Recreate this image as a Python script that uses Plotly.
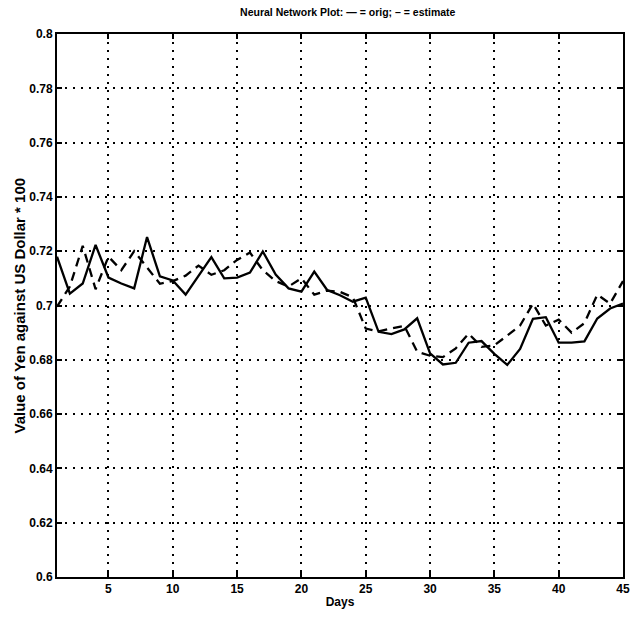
import plotly.graph_objects as go

days = list(range(1, 46))
orig = [0.718, 0.7044, 0.7081, 0.7223, 0.7103, 0.7081, 0.7063, 0.7252, 0.7107, 0.7092,
        0.704, 0.711, 0.7178, 0.710, 0.7103, 0.7121, 0.7199, 0.7114, 0.7063, 0.7051,
        0.7125, 0.7057, 0.7038, 0.7014, 0.7029, 0.6903, 0.6895, 0.6912, 0.6953, 0.6824,
        0.6783, 0.6789, 0.6863, 0.6869, 0.6822, 0.6781, 0.684, 0.6951, 0.6957, 0.6863,
        0.6863, 0.6868, 0.6952, 0.6989, 0.7007]
estimate = [0.6996, 0.707, 0.722, 0.706, 0.718, 0.713, 0.720, 0.714, 0.708, 0.709,
            0.711, 0.7147, 0.7113, 0.713, 0.7168, 0.7195, 0.713, 0.709, 0.707, 0.710,
            0.704, 0.7055, 0.705, 0.703, 0.6915, 0.6905, 0.6915, 0.6925, 0.683, 0.6815,
            0.681, 0.6842, 0.6896, 0.6848, 0.6853, 0.689, 0.6926, 0.7007, 0.6926, 0.6948,
            0.690, 0.6935, 0.704, 0.7007, 0.709]

x_ticks = [5, 10, 15, 20, 25, 30, 35, 40, 45]
x_ticklabels = ["5", "10", "15", "20", "25", "30", "35", "40", "45"]
y_ticks = [0.6, 0.62, 0.64, 0.66, 0.68, 0.7, 0.72, 0.74, 0.76, 0.78, 0.8]
y_ticklabels = ["0.6", "0.62", "0.64", "0.66", "0.68", "0.7", "0.72", "0.74", "0.76", "0.78", "0.8"]

title_text = "Neural Network Plot: \u2014 = orig; \u2013 = estimate"
x_title = "Days"
y_title = "Value of Yen against US Dollar * 100"

FONT = "Liberation Sans"

fig = go.Figure()
fig.add_trace(go.Scatter(x=days, y=orig, mode="lines",
                         line=dict(color="black", width=2.3), showlegend=False))
fig.add_trace(go.Scatter(x=days, y=estimate, mode="lines",
                         line=dict(color="black", width=2.3, dash="9px,6px"), showlegend=False))

axis_common = dict(
    showline=True, linecolor="black", linewidth=2, mirror="ticks",
    ticks="inside", ticklen=5, tickwidth=1.5, tickcolor="black",
    showgrid=True, gridcolor="black", gridwidth=1.5, griddash="2px,6px",
    zeroline=False, automargin=False, ticklabeloverflow="allow",
    tickfont=dict(family=FONT, size=12, color="black", weight="bold"),
)

fig.update_xaxes(range=[1, 45], tickmode="array", tickvals=x_ticks, ticktext=x_ticklabels,
                 title=dict(text=x_title, standoff=2,
                            font=dict(family=FONT, size=12, color="black", weight="bold")),
                 **axis_common)
fig.update_yaxes(range=[0.6, 0.8], tickmode="array", tickvals=y_ticks, ticktext=y_ticklabels,
                 **axis_common)

fig.add_annotation(text=y_title, xref="paper", yref="paper", x=-0.0671, y=0.5,
                   xanchor="center", yanchor="middle", textangle=-90, showarrow=False,
                   font=dict(family=FONT, size=15, color="black", weight="bold"))

fig.update_layout(
    width=630, height=617,
    margin=dict(l=57, r=7, t=34, b=40),
    paper_bgcolor="white", plot_bgcolor="white",
    title=dict(text=title_text, x=0.552, xanchor="center", y=0.986, yanchor="top",
               font=dict(family=FONT, size=10.5, color="black", weight="bold")),
)

fig.write_html("out.html", config={"displayModeBar": False},
               post_script="document.body.style.margin='0';document.body.style.overflow='hidden';")
